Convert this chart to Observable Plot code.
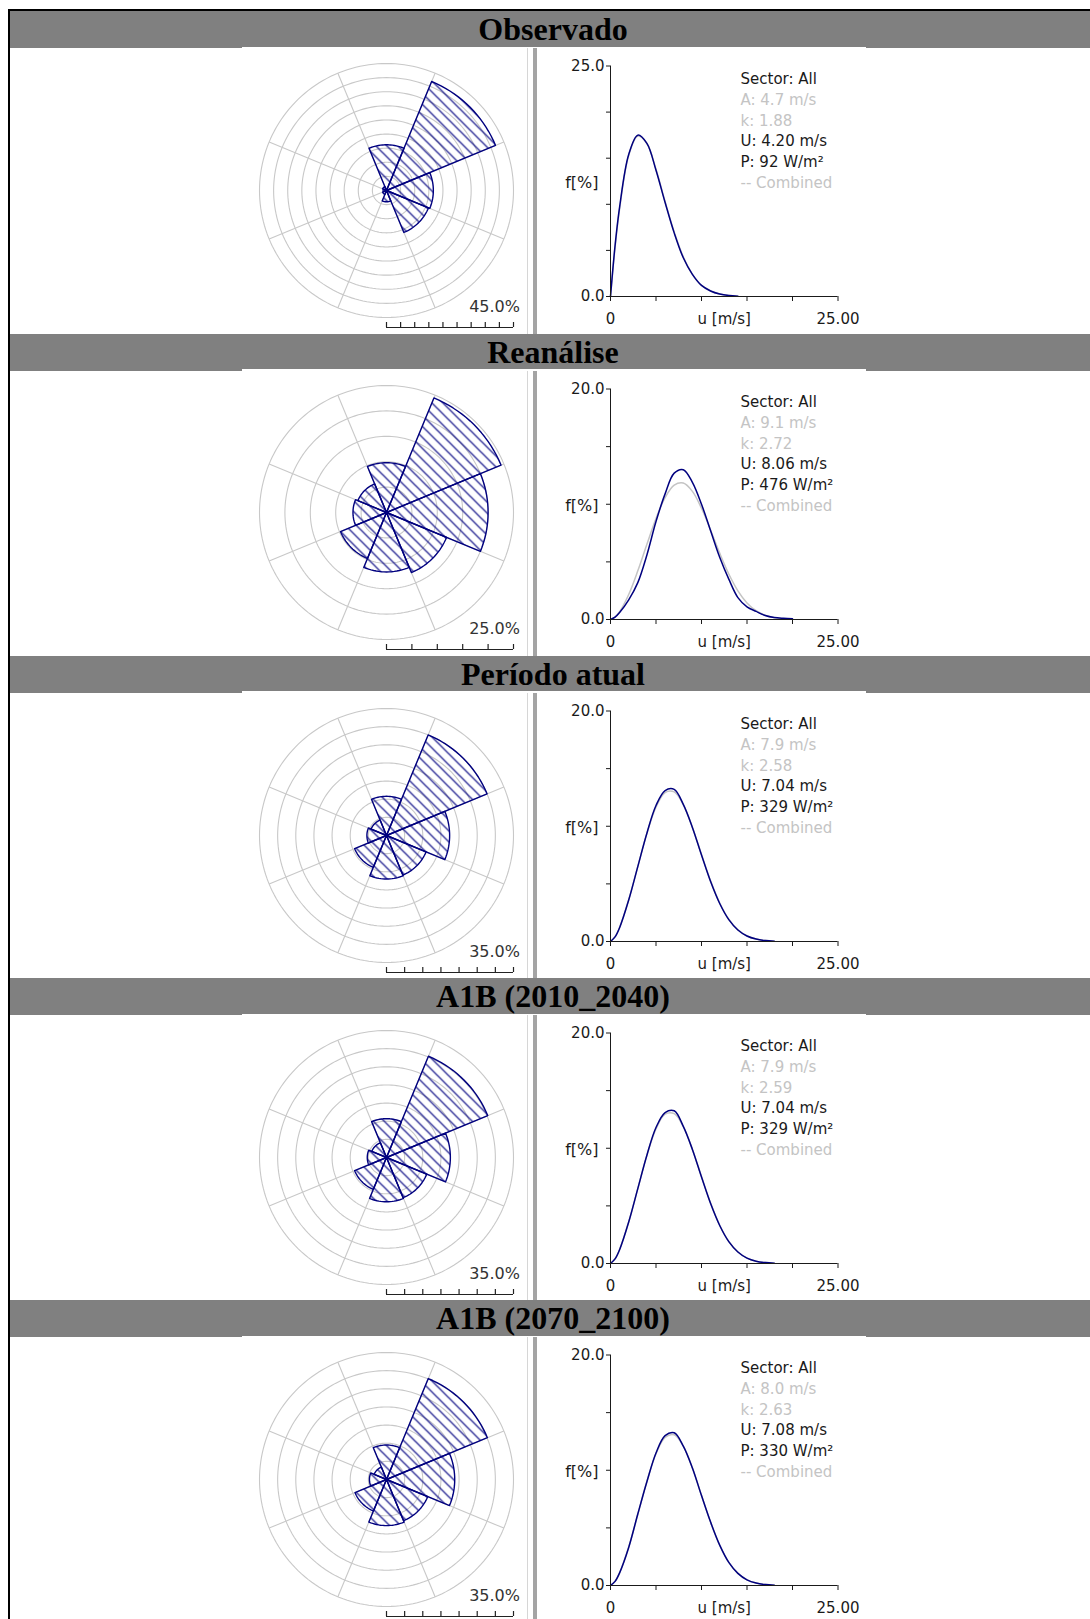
<!DOCTYPE html>
<html><head><meta charset="utf-8">
<script src="https://cdn.jsdelivr.net/npm/d3@7"></script>
<script src="https://cdn.jsdelivr.net/npm/@observablehq/plot@0.6"></script>
<style>
body{margin:0;background:#fff;}
#page{position:relative;width:1090px;height:1619px;overflow:hidden;background:#fff;}
.frame{position:absolute;left:8px;top:9px;width:1200px;height:1800px;border:2px solid #000;box-sizing:border-box;}
.bar{position:absolute;left:10px;width:1086px;height:37px;background:#808080;color:#000;font:bold 32px "Liberation Serif","Times New Roman",serif;text-align:center;line-height:37px;white-space:nowrap;}
.strip{position:absolute;left:242px;width:624px;height:1.5px;background:#fff;}
.sepA{position:absolute;left:527px;width:1px;background:#d6d6d6;}
.sepB{position:absolute;left:533px;width:4px;background:#a4a4a4;}
.abs{position:absolute;}
</style></head>
<body><div id="page"><div class="frame"></div></div>
<script>
// ---------- data ----------
const titles = ["Observado", "Reanálise", "Período atual", "A1B (2010_2040)", "A1B (2070_2100)"];
const directions = ["N", "NE", "E", "SE", "S", "SW", "W", "NW"];
const roseObservado = [16.2, 41.8, 16.6, 16.1, 4.0, 1.5, 1.2, 1.5];
const roseReanalise = [9.8, 24.4, 20.0, 12.8, 11.7, 9.8, 6.6, 6.1];
const rosePeriodo   = [10.8, 30.0, 17.4, 11.8, 12.0, 9.5, 5.4, 4.6];
const roseA1B2010   = [10.7, 30.2, 17.6, 12.0, 12.2, 9.5, 5.3, 4.4];
const roseA1B2070   = [9.5, 30.1, 18.8, 12.3, 12.7, 9.4, 4.7, 3.7];
const roseMax = [45, 25, 35, 35, 35];
const roseLabels = ["45.0%", "25.0%", "35.0%", "35.0%", "35.0%"];

const speeds = [0, 0.5, 1, 2, 3, 4, 5, 6, 7, 8, 9, 10, 11, 12, 13, 14, 15, 16, 17, 18, 19, 20];
const freqObservado     = [0, 5.5, 9.7, 15.4, 17.5, 16.6, 13.7, 10.2, 6.9, 4.2, 2.4, 1.2, 0.6, 0.27, 0.11, 0.04, null, null, null, null, null, null];
const freqObservadoComb = [0, 5.3, 9.5, 15.3, 17.4, 16.6, 13.8, 10.3, 7.0, 4.3, 2.4, 1.2, 0.6, 0.27, 0.11, 0.04, null, null, null, null, null, null];
const freqReanalise     = [0, 0.2, 0.6, 1.7, 3.2, 5.6, 8.5, 10.9, 12.7, 13.0, 11.9, 10.0, 7.7, 5.4, 3.5, 1.9, 1.1, 0.7, 0.35, 0.17, 0.1, 0.06];
const freqReanaliseComb = [0, 0.2, 0.67, 2.17, 4.22, 6.53, 8.77, 10.58, 11.66, 11.84, 11.12, 9.65, 7.76, 5.76, 3.95, 2.49, 1.44, 0.76, 0.37, 0.16, 0.06, null];
const freqPeriodo       = [0, 0.4, 1.2, 3.6, 6.5, 9.4, 11.8, 13.1, 13.2, 11.9, 9.9, 7.5, 5.2, 3.3, 1.9, 1.0, 0.48, 0.21, 0.08, 0.03, null, null];
const freqPeriodoComb   = [0, 0.42, 1.24, 3.62, 6.52, 9.38, 11.66, 12.93, 12.98, 11.86, 9.9, 7.55, 5.26, 3.34, 1.93, 1.01, 0.48, 0.21, 0.08, 0.03, null, null];
const freqA1B2010       = [0, 0.4, 1.2, 3.6, 6.5, 9.4, 11.8, 13.1, 13.25, 11.9, 9.9, 7.5, 5.2, 3.3, 1.9, 1.0, 0.47, 0.2, 0.08, 0.03, null, null];
const freqA1B2010Comb   = [0, 0.41, 1.23, 3.6, 6.5, 9.38, 11.68, 12.96, 13.0, 11.87, 9.9, 7.54, 5.24, 3.32, 1.91, 1.0, 0.47, 0.2, 0.08, 0.03, null, null];
const freqA1B2070       = [0, 0.36, 1.1, 3.3, 6.2, 9.0, 11.5, 13.0, 13.25, 12.1, 10.2, 7.8, 5.5, 3.5, 2.0, 1.05, 0.49, 0.21, 0.08, 0.03, null, null];
const freqA1B2070Comb   = [0, 0.36, 1.1, 3.34, 6.16, 9.04, 11.43, 12.86, 13.08, 12.09, 10.19, 7.83, 5.48, 3.49, 2.01, 1.05, 0.49, 0.21, 0.08, 0.03, null, null];
const histMax = [25, 20, 20, 20, 20];

const legendA = ["A: 4.7 m/s", "A: 9.1 m/s", "A: 7.9 m/s", "A: 7.9 m/s", "A: 8.0 m/s"];
const legendK = ["k: 1.88", "k: 2.72", "k: 2.58", "k: 2.59", "k: 2.63"];
const legendU = ["U: 4.20 m/s", "U: 8.06 m/s", "U: 7.04 m/s", "U: 7.04 m/s", "U: 7.08 m/s"];
const legendP = ["P: 92 W/m²", "P: 476 W/m²", "P: 329 W/m²", "P: 329 W/m²", "P: 330 W/m²"];
const xTickValues = [0, 5, 10, 15, 20, 25];
const xTickLabels = [{u: 0, t: "0"}, {u: 12.5, t: "u [m/s]"}, {u: 25, t: "25.00"}];

const roses = [roseObservado, roseReanalise, rosePeriodo, roseA1B2010, roseA1B2070];
const blues = [freqObservado, freqReanalise, freqPeriodo, freqA1B2010, freqA1B2070];
const grays = [freqObservadoComb, freqReanaliseComb, freqPeriodoComb, freqA1B2010Comb, freqA1B2070Comb];

// ---------- drawing ----------
const NAVY = "#00007f";
const FONT = "'DejaVu Sans', Verdana, sans-serif";
const HATCH = 11;
const page = document.getElementById("page");
const rad = a => a * Math.PI / 180;

function rosePlot(vals, max, label, idx) {
  const R = 127;
  const rings = [];
  for (let r = 5; r <= max + 1e-9; r += 5)
    for (let a = 0; a <= 360; a += 2) rings.push({r, x: r * Math.sin(rad(a)), y: r * Math.cos(rad(a))});
  const spokes = d3.range(8).map(i => 22.5 + 45 * i);
  const sect = [];
  vals.forEach((v, i) => {
    const c = i * 45;
    sect.push({k: directions[i], x: 0, y: 0});
    for (let t = c - 22.5; t <= c + 22.5 + 1e-9; t += 2.5)
      sect.push({k: directions[i], x: v * Math.sin(rad(t)), y: v * Math.cos(rad(t))});
    sect.push({k: directions[i], x: 0, y: 0});
  });
  const scaleTicks = d3.range(0, max + 0.01, 5);
  const svg = Plot.plot({
    width: 2 * R + 40, height: 10 + 2 * R + 16,
    marginLeft: 20, marginRight: 20, marginTop: 10, marginBottom: 16,
    x: {domain: [-max, max], axis: null},
    y: {domain: [-max, max], axis: null},
    style: {background: "transparent", overflow: "visible", fontFamily: FONT, fontSize: "16px"},
    marks: [
      Plot.line(rings, {x: "x", y: "y", z: "r", stroke: "#c8c8c8", strokeWidth: 1.1}),
      Plot.link(spokes, {x1: 0, y1: 0, x2: a => max * Math.sin(rad(a)), y2: a => max * Math.cos(rad(a)), stroke: "#c8c8c8", strokeWidth: 1.1}),
      Plot.line(sect, {x: "x", y: "y", z: "k", fill: `url(#hatch${idx})`, stroke: NAVY, strokeWidth: 1.4, strokeLinejoin: "round"}),
      Plot.ruleY([-max], {x1: 0, x2: max, dy: 10, stroke: "#222", strokeWidth: 1.2}),
      Plot.ruleX(scaleTicks, {x: d => d, y1: -max, y2: -max + max * 5 / R, dy: 10, stroke: "#222", strokeWidth: 1.2}),
      Plot.text([label], {x: max, y: -max, text: d => d, textAnchor: "end", lineAnchor: "middle", dx: 6.5, dy: -10.5, fill: "#333", fontSize: 16})
    ]
  });
  const defs = d3.select(svg).insert("defs", ":first-child");
  const p = defs.append("pattern").attr("id", `hatch${idx}`).attr("patternUnits", "userSpaceOnUse")
    .attr("width", HATCH).attr("height", HATCH);
  const H = HATCH;
  p.append("path").attr("d", `M-2,-2L${H + 2},${H + 2}M-2,${H - 2}L2,${H + 2}M${H - 2},-2L${H + 2},2`)
    .attr("stroke", NAVY).attr("stroke-width", 1.2).attr("fill", "none");
  return svg;
}

function histPlot(blue, gray, max, idx) {
  const data = speeds.map((u, i) => ({u, b: blue[i], g: gray[i]}));
  const yTicks = d3.range(0, max + 0.01, 5);
  const legend = [
    {t: "Sector: All", c: "#1a1a1a"},
    {t: legendA[idx], c: "#c4c4c4"},
    {t: legendK[idx], c: "#c4c4c4"},
    {t: legendU[idx], c: "#1a1a1a"},
    {t: legendP[idx], c: "#1a1a1a"},
    {t: "-- Combined", c: "#c4c4c4"}
  ];
  return Plot.plot({
    width: 330, height: 280,
    marginLeft: 70, marginRight: 32.5, marginTop: 18.5, marginBottom: 31,
    x: {domain: [0, 25], axis: null},
    y: {domain: [0, max], axis: null},
    style: {background: "transparent", overflow: "visible", fontFamily: FONT, fontSize: "15px", color: "#1a1a1a"},
    marks: [
      Plot.line(data.filter(d => d.g != null), {x: "u", y: "g", stroke: "#c4c4c4", strokeWidth: 1.5, curve: "catmull-rom"}),
      Plot.line(data.filter(d => d.b != null), {x: "u", y: "b", stroke: NAVY, strokeWidth: 1.5, curve: "catmull-rom"}),
      Plot.ruleX([0], {stroke: "#1a1a1a"}),
      Plot.ruleY([0], {stroke: "#1a1a1a"}),
      Plot.axisY(yTicks, {tickSize: 4, tickPadding: 2, tickFormat: d => (d === 0 || d === max) ? d.toFixed(1) : "", label: null, fontSize: 15}),
      Plot.axisX(xTickValues, {tickSize: 5, tickFormat: () => "", label: null}),
      Plot.text(xTickLabels, {x: "u", text: "t", frameAnchor: "bottom", lineAnchor: "middle", dy: 23, fill: "#1a1a1a"}),
      Plot.text(["f[%]"], {x: 0, y: max / 2, text: d => d, textAnchor: "end", lineAnchor: "middle", dx: -12, dy: 2, fill: "#1a1a1a", fontSize: 16}),
      ...legend.map((L, i) => Plot.text([L], {frameAnchor: "top-left", text: d => d.t, fill: L.c, textAnchor: "start", lineAnchor: "top", dx: 130, dy: 7.5 + 20.7 * i}))
    ]
  });
}

titles.forEach((title, i) => {
  const T = 11.4 + 322.2 * i;
  const bar = document.createElement("div");
  bar.className = "bar"; bar.style.top = T + "px"; bar.textContent = title;
  page.appendChild(bar);
  const strip = document.createElement("div");
  strip.className = "strip"; strip.style.top = (T + 35.5) + "px";
  page.appendChild(strip);
  const nextTop = 11.4 + 322.2 * (i + 1);
  for (const cls of ["sepA", "sepB"]) {
    const s = document.createElement("div");
    s.className = cls; s.style.top = (T + 37) + "px"; s.style.height = (nextTop - T - 37) + "px";
    page.appendChild(s);
  }
  const rs = rosePlot(roses[i], roseMax[i], roseLabels[i], i);
  rs.classList.add("abs");
  rs.style.left = (385.5 - 147) + "px";
  rs.style.top = (T + 178.7 - 137) + "px";
  page.appendChild(rs);
  const hs = histPlot(blues[i], grays[i], histMax[i], i);
  hs.classList.add("abs");
  hs.style.left = "540px";
  hs.style.top = (T + 36) + "px";
  page.appendChild(hs);
});
</script>
</body></html>
